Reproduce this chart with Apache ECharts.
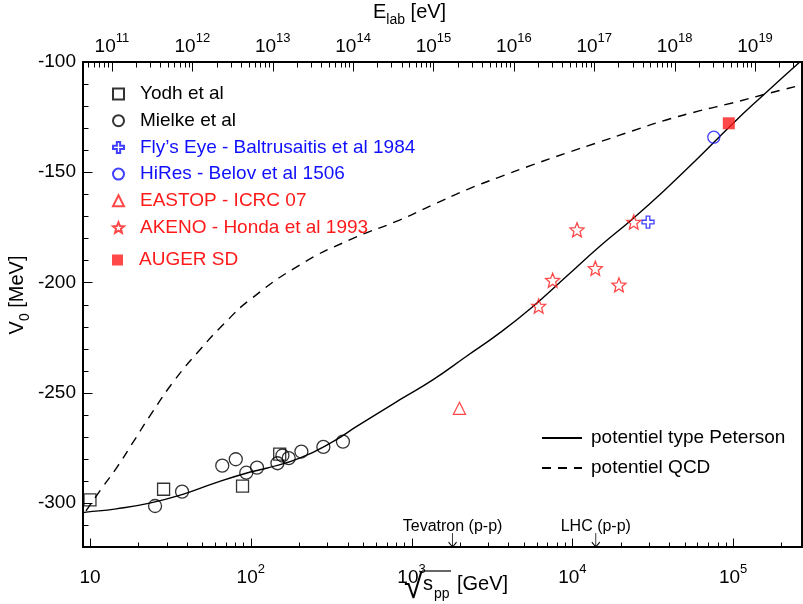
<!DOCTYPE html>
<html><head><meta charset="utf-8">
<script src="https://cdn.jsdelivr.net/npm/echarts@6/dist/echarts.min.js"></script>
<style>html,body{margin:0;padding:0;background:#fff}#c{width:803px;height:604px}</style>
</head><body><div id="c"></div>
<script>
// ---- axis ranges / ticks ----
const xMin = 9.05, xMax = 268300;
const yMin = -320, yMax = -100;
const bottomTicks = [10, 100, 1000, 10000, 100000];
const topTickExp = [11, 12, 13, 14, 15, 16, 17, 18, 19];
const yTicks = [-300, -250, -200, -150, -100];
const protonMass = 0.938; // GeV

// ---- data (sqrt(s) [GeV], V0 [MeV]) ----
const yodhX = [10.0, 28.7, 88.9, 151.4];
const yodhY = [-298.6, -293.8, -292.4, -277.9];
const mielkeX = [25.4, 37.4, 66.5, 80.7, 93.8, 109.4, 146.6, 157.4, 172.2, 206.5, 282.9, 374.5];
const mielkeY = [-301.4, -294.9, -283.1, -280.2, -286.3, -284.0, -282.0, -278.5, -279.7, -276.7, -274.6, -272.2];
const flysEyeX = [29570];
const flysEyeY = [-172.6];
const hiresX = [75860];
const hiresY = [-134.1];
const eastopX = [1986];
const eastopY = [-257.1];
const akenoX = [6176, 7545, 10696, 13900, 19500, 24100];
const akenoY = [-210.7, -199.0, -176.1, -193.6, -201.1, -172.6];
const augerX = [94050];
const augerY = [-127.8];

const petersonX = [9.05, 9.49, 14.57, 23.5, 37.8, 60.9, 98.2, 125.2, 201.5, 324.5, 453.5, 842, 1356, 2187, 3521, 5669, 9142, 14720, 23690, 38190, 61500, 99000, 152000, 260000];
const petersonY = [-304.4, -304.2, -302.7, -300.1, -296.1, -290.8, -286.1, -284.3, -279.7, -272.2, -265.4, -253.3, -244.2, -233.6, -223.0, -211.0, -197.4, -183.8, -171.2, -157.6, -143.1, -128.1, -115.4, -100.0];
const qcdX = [9.45, 12.04, 14.57, 18.95, 23.6, 33.7, 48.2, 68.96, 98.6, 201.5, 412, 842, 1350, 2196, 3521, 5644, 9178, 14720, 23590, 38360, 61500, 98600, 160300, 268300];
const qcdY = [-303.6, -292.6, -284.3, -271.4, -260.5, -244.2, -230.6, -218.4, -207.9, -192.1, -180.7, -171.7, -164.9, -158.0, -152.2, -146.7, -141.3, -136.3, -131.3, -126.3, -122.2, -118.6, -114.5, -110.4];

const annNames = ['Tevatron (p-p)', 'LHC (p-p)'];
const annX = [1800, 14000];

const BLUE = '#1010ff', RED = '#ff1a1a';
const FONT = 'Liberation Sans, Arial, sans-serif';

const zip = (xs, ys) => xs.map((x, i) => [x, ys[i]]);
const toElab = s => s * s / (2 * protonMass) * 1e9;
const fromElab = e => Math.sqrt(e * 2 * protonMass / 1e9);
const eMin = toElab(xMin), eMax = toElab(xMax);

const bottomMinor = [];
for (let n = 0; n <= 5; n++) for (let k = 2; k <= 9; k++) { const v = k * Math.pow(10, n); if (v > xMin && v < xMax) bottomMinor.push(v); }
const topMajor = topTickExp.map(e => Math.pow(10, e));
const topMinor = [];
for (let n = 10; n <= 19; n++) for (let k = 2; k <= 9; k++) { const v = k * Math.pow(10, n); if (v > eMin && v < eMax) topMinor.push(v); }
const yMinor = [];
for (let v = yMin + 10; v < yMax; v += 10) if (v % 50 !== 0) yMinor.push(v);

const STAR = 'path://M50,0 L62.93,32.2 L97.55,34.55 L70.92,56.8 L79.39,90.45 L50,72 L20.61,90.45 L29.08,56.8 L2.45,34.55 L37.07,32.2 Z';
const PLUS = 'path://M35,0 L65,0 L65,35 L100,35 L100,65 L65,65 L65,100 L35,100 L35,65 L0,65 L0,35 L35,35 Z';
const ARROW = 'path://M5,0 L5,20 M1,13 L5,20 L9,13';

const powLabel = v => {
  const e = Math.round(Math.log10(v));
  return e === 1 ? '{b|10}{s|\u200B}' : '{b|10}{s|' + e + '}';
};
const labRich = {
  b: { fontSize: 19, fontFamily: FONT, color: '#000', verticalAlign: 'bottom' },
  s: { fontSize: 13, fontFamily: FONT, color: '#000', verticalAlign: 'bottom', padding: [0, 0, 11, 0] }
};

const hollow = c => ({ color: 'rgba(0,0,0,0)', borderColor: c, borderWidth: 1.3 });

// tick marks drawn through the axes' own scales
const tickSeries = (points, dir, len) => ({
  type: 'custom', coordinateSystem: 'cartesian2d', silent: true, clip: false, z: 5,
  data: points,
  renderItem: (params, api) => {
    const p = api.coord([api.value(0), api.value(1)]);
    const x = Math.round(p[0]) + 0.5, y = Math.round(p[1]) + 0.5;
    const shape = dir === 'up' ? { x1: x, y1: y, x2: x, y2: y - len }
      : dir === 'down' ? { x1: x, y1: y, x2: x, y2: y + len }
      : { x1: x, y1: y, x2: x + len, y2: y };
    return { type: 'line', shape, style: { stroke: '#000', lineWidth: 1 } };
  }
});

const chart = echarts.init(document.getElementById('c'));
chart.setOption({
  animation: false,
  backgroundColor: '#fff',
  textStyle: { fontFamily: FONT },
  grid: { left: 83, right: 1, top: 62, bottom: 57, containLabel: false },
  xAxis: [
    { type: 'log', position: 'bottom', min: xMin, max: xMax, splitLine: { show: false },
      axisLine: { lineStyle: { color: '#000', width: 2 } },
      axisTick: { show: false },
      axisLabel: { customValues: bottomTicks, formatter: powLabel, rich: labRich, margin: 16, color: '#000' } },
    { type: 'log', position: 'top', min: eMin, max: eMax, splitLine: { show: false },
      axisLine: { lineStyle: { color: '#000', width: 2 } },
      axisTick: { show: false },
      axisLabel: { customValues: topMajor, formatter: powLabel, rich: labRich, margin: 6, color: '#000' } }
  ],
  yAxis: [
    { type: 'value', position: 'left', min: yMin, max: yMax, splitLine: { show: false },
      axisLine: { show: true, lineStyle: { color: '#000', width: 2 } },
      axisTick: { show: false },
      axisLabel: { customValues: yTicks, fontSize: 19, fontFamily: FONT, color: '#000', margin: 7 } },
    { type: 'value', position: 'right', min: yMin, max: yMax, splitLine: { show: false },
      axisLine: { show: true, lineStyle: { color: '#000', width: 2 } },
      axisTick: { show: false }, axisLabel: { show: false } }
  ],
  legend: [
    { orient: 'vertical', left: 112, top: 84, padding: 0, itemWidth: 11, itemHeight: 11, itemGap: 6.7,
      textStyle: { fontSize: 19, fontFamily: FONT, lineHeight: 20, padding: [0, 0, 0, 11] },
      data: [
        { name: 'Yodh et al', textStyle: { color: '#000' } },
        { name: 'Mielke et al', textStyle: { color: '#000' } },
        { name: 'Fly\u2019s Eye - Baltrusaitis et al 1984', textStyle: { color: BLUE } },
        { name: 'HiRes - Belov et al 1506', textStyle: { color: BLUE } },
        { name: 'EASTOP - ICRC 07', textStyle: { color: RED } },
        { name: 'AKENO - Honda et al 1993', textStyle: { color: RED } }
      ] },
    { orient: 'vertical', left: 112, top: 250, padding: 0, itemWidth: 11, itemHeight: 11,
      textStyle: { fontSize: 19, fontFamily: FONT, lineHeight: 20, padding: [0, 0, 0, 11] },
      data: [{ name: 'AUGER SD', textStyle: { color: RED } }] },
    { orient: 'vertical', left: 541, top: 428, padding: 0, itemWidth: 40, itemHeight: 12, itemGap: 10,
      itemStyle: { color: 'rgba(0,0,0,0)', borderWidth: 0 },
      textStyle: { fontSize: 19, fontFamily: FONT, lineHeight: 20, color: '#000', padding: [0, 0, 0, 4] },
      data: ['potentiel type Peterson', 'potentiel QCD'] }
  ],
  graphic: [
    { type: 'text', left: 373, top: 2, style: { text: '{a|E}{b|lab}{a| [eV]}', rich: {
        a: { fontSize: 20, fontFamily: FONT, fill: '#000', verticalAlign: 'bottom', padding: [0, 0, 5, 0] },
        b: { fontSize: 14, fontFamily: FONT, fill: '#000', verticalAlign: 'bottom' } } } },
    { type: 'text', x: 20, y: 295, rotation: Math.PI / 2, style: { text: '{a|V}{b|0}{a| [MeV]}', align: 'center', verticalAlign: 'middle', rich: {
        a: { fontSize: 20, fontFamily: FONT, fill: '#000', verticalAlign: 'bottom', padding: [0, 0, 5, 0] },
        b: { fontSize: 14, fontFamily: FONT, fill: '#000', verticalAlign: 'bottom' } } } },
    { type: 'text', x: 404, y: 606, style: { text: '\u221A', fontSize: 34, fontFamily: FONT, fill: '#000', verticalAlign: 'bottom' } },
    { type: 'line', shape: { x1: 422, y1: 571, x2: 451, y2: 571 }, style: { stroke: '#000', lineWidth: 1.2 } },
    { type: 'text', x: 423, y: 574, style: { text: 's', fontSize: 20, fontFamily: FONT, fill: '#000' } },
    { type: 'text', x: 434, y: 587, style: { text: 'pp', fontSize: 14, fontFamily: FONT, fill: '#000' } },
    { type: 'text', x: 457, y: 574, style: { text: '[GeV]', fontSize: 20, fontFamily: FONT, fill: '#000' } }
  ],
  series: [
    { name: 'potentiel type Peterson', type: 'line', smooth: true, symbol: 'none', showSymbol: false, data: zip(petersonX, petersonY),
      lineStyle: { color: '#000', width: 1.4 }, itemStyle: { color: '#000' }, z: 2 },
    { name: 'potentiel QCD', type: 'line', smooth: true, symbol: 'none', showSymbol: false, data: zip(qcdX, qcdY),
      lineStyle: { color: '#000', width: 1.4, type: [9, 7] }, itemStyle: { color: '#000' }, z: 2 },
    { name: 'Yodh et al', type: 'scatter', symbol: 'rect', symbolSize: 12, data: zip(yodhX, yodhY), itemStyle: hollow('#000'), z: 3 },
    { name: 'Mielke et al', type: 'scatter', symbol: 'circle', symbolSize: 13, data: zip(mielkeX, mielkeY), itemStyle: hollow('#000'), z: 3 },
    { name: 'Fly\u2019s Eye - Baltrusaitis et al 1984', type: 'scatter', symbol: PLUS, symbolSize: 12, data: zip(flysEyeX, flysEyeY), itemStyle: hollow(BLUE), z: 3 },
    { name: 'HiRes - Belov et al 1506', type: 'scatter', symbol: 'circle', symbolSize: 12, data: zip(hiresX, hiresY), itemStyle: hollow(BLUE), z: 3 },
    { name: 'EASTOP - ICRC 07', type: 'scatter', symbol: 'triangle', symbolSize: 12, data: zip(eastopX, eastopY), itemStyle: hollow(RED), z: 3 },
    { name: 'AKENO - Honda et al 1993', type: 'scatter', symbol: STAR, symbolSize: 14, data: zip(akenoX, akenoY), itemStyle: hollow(RED), z: 3 },
    { name: 'AUGER SD', type: 'scatter', symbol: 'rect', symbolSize: 12, data: zip(augerX, augerY), itemStyle: { color: RED }, z: 3 },
    { name: 'ann', type: 'scatter', symbol: ARROW, symbolSize: [8, 14], symbolOffset: [0, -7], clip: false,
      itemStyle: { color: 'none', borderColor: '#000', borderWidth: 1, opacity: 1 },
      label: { show: true, position: 'top', distance: -5, fontSize: 16, fontFamily: FONT, color: '#000', opacity: 1, formatter: p => p.name },
      data: annX.map((x, i) => ({ name: annNames[i], value: [x, yMin] })), z: 4 },
    tickSeries(bottomTicks.map(v => [v, yMin]), 'up', 9),
    tickSeries(bottomMinor.map(v => [v, yMin]), 'up', 5),
    tickSeries(topMajor.map(e => [fromElab(e), yMax]), 'down', 9),
    tickSeries(topMinor.map(e => [fromElab(e), yMax]), 'down', 5),
    tickSeries(yTicks.map(v => [xMin, v]), 'right', 9),
    tickSeries(yMinor.map(v => [xMin, v]), 'right', 5)
  ]
});
</script></body></html>
